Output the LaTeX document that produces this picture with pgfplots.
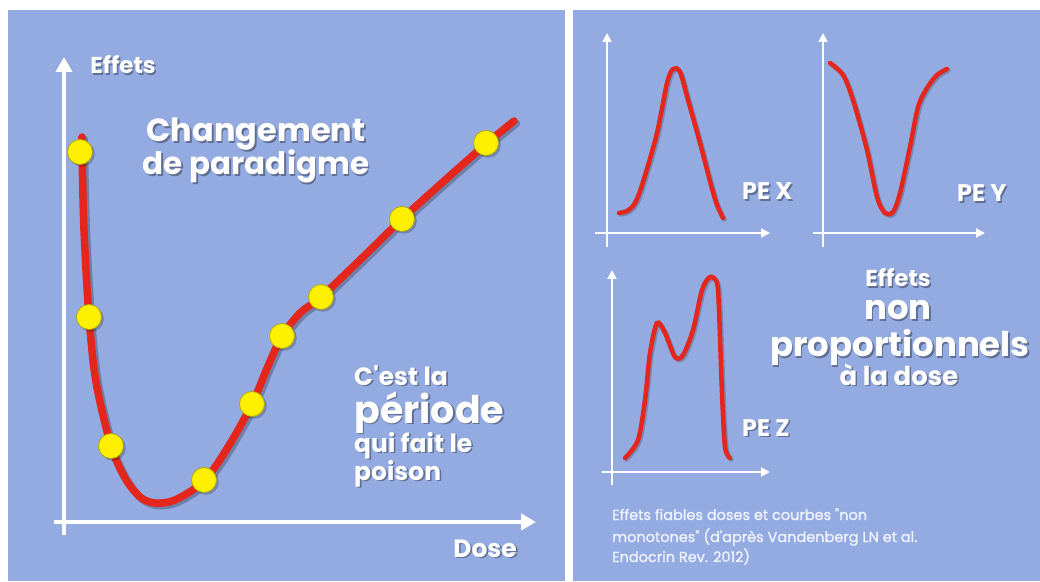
\documentclass[border=0pt]{standalone}
\usepackage{pgfplots}
\pgfplotsset{compat=1.18}
\usepackage{pgfplotstable}
\usetikzlibrary{arrows.meta}
\usepackage{fontspec}
\setmainfont{Poppins}
\newfontfamily\capfont{Poppins}[FakeBold=1.3]
\definecolor{panel}{RGB}{148,171,226}
\definecolor{curve}{RGB}{228,38,28}
\definecolor{dot}{RGB}{255,240,0}
\definecolor{capt}{RGB}{238,242,252}

% text with drop shadow: x(px), baseline y(px from top), options, text
\newcommand\sh[4]{%
 \node[inner sep=0pt, anchor=base, #3, text=black, opacity=0.35] at ({#1+1.6},{581-#2-1.6}) {#4};
 \node[inner sep=0pt, anchor=base, #3, text=white] at (#1,{581-#2}) {#4};}

\pgfplotstableread{
X Y
82 137
82 152
84 230
89 317
96 382
111 446
125 478
140 497
155 503
175 500
204 481
228 447
252 404
268 366
282 336
300 313
321 297
362 258
402 219
444 181
486 144
514 121
}\maincurve
\pgfplotstableread{
X Y
80 152
89 317
111 446
204 480
252 404
282 336
321 297
402 219
486 143
}\markers
\pgfplotstableread{
X Y
619 213
627 211
635 203
643 182
657 133
667 83
673 69
680 72
688 100
700 143
711 185
717 205
723 218
}\pex
\pgfplotstableread{
X Y
830 63
843 75
853 100
867 150
877 197
885 213
893 212
900 193
910 147
918 107
927 88
937 75
947 69
}\pey
\pgfplotstableread{
X Y
625 458
638 440
645 400
650 353
657 323
665 333
675 357
683 355
693 330
702 290
710 277
717 283
719 310
722 393
725 447
730 458
}\pez

\pgfplotsset{
 base/.style={x=1pt,y=1pt,axis lines=middle,xtick=\empty,ytick=\empty,
   clip=false,anchor=south west},
 small/.style={base,
   axis line style={white,line width=2pt},
   x axis line style={-{Triangle[length=9pt,width=9pt]}},
   y axis line style={-{Triangle[length=9pt,width=9pt]}}},
}

\begin{document}
\begin{tikzpicture}[x=1pt,y=1pt]
\useasboundingbox (0,0) rectangle (1040,581);
\fill[white] (0,0) rectangle (1040,581);
\fill[panel] (8,0) rectangle (565,571);
\fill[panel] (573,0) rectangle (1040,571);

% ---------- main chart ----------
\begin{axis}[base, at={(54,46)},
  xmin=-10, xmax=472, ymin=-13, ymax=465,
  axis line style={white,line width=4pt},
  x axis line style={-{Triangle[length=15pt,width=16pt]}},
  y axis line style={-{Triangle[length=15pt,width=16pt]}}]
\addplot[black, opacity=0.25, line width=7.5pt, line cap=round, smooth, tension=0.5, xshift=2.5pt, yshift=-2.5pt]
  table[x expr=\thisrow{X}-64, y expr=522-\thisrow{Y}] {\maincurve};
\addplot[curve, line width=7.5pt, line cap=round, smooth, tension=0.5]
  table[x expr=\thisrow{X}-64, y expr=522-\thisrow{Y}] {\maincurve};
\addplot[only marks, mark=*, mark size=12.5pt, mark options={fill=black, draw=none, opacity=0.2, xshift=2pt, yshift=-2pt}]
  table[x expr=\thisrow{X}-64, y expr=522-\thisrow{Y}] {\markers};
\addplot[only marks, mark=*, mark size=12.5pt, mark options={fill=dot, draw=dot!70!black, line width=0.8pt}]
  table[x expr=\thisrow{X}-64, y expr=522-\thisrow{Y}] {\markers};
\end{axis}

% ---------- PE X ----------
\begin{axis}[small, at={(595,334)}, xmin=-12, xmax=163, ymin=-14, ymax=200]
\addplot[black, opacity=0.2, line width=4.5pt, line cap=round, smooth, tension=0.5, xshift=1.5pt, yshift=-1.5pt]
  table[x expr=\thisrow{X}-607, y expr=233-\thisrow{Y}] {\pex};
\addplot[curve, line width=4.5pt, line cap=round, smooth, tension=0.5]
  table[x expr=\thisrow{X}-607, y expr=233-\thisrow{Y}] {\pex};
\end{axis}

% ---------- PE Y ----------
\begin{axis}[small, at={(813,334)}, xmin=-10, xmax=162, ymin=-14, ymax=200]
\addplot[black, opacity=0.2, line width=4.5pt, line cap=round, smooth, tension=0.5, xshift=1.5pt, yshift=-1.5pt]
  table[x expr=\thisrow{X}-823, y expr=233-\thisrow{Y}] {\pey};
\addplot[curve, line width=4.5pt, line cap=round, smooth, tension=0.5]
  table[x expr=\thisrow{X}-823, y expr=233-\thisrow{Y}] {\pey};
\end{axis}

% ---------- PE Z ----------
\begin{axis}[small, at={(602,96)}, xmin=-10, xmax=158, ymin=-13, ymax=202]
\addplot[black, opacity=0.2, line width=4.5pt, line cap=round, smooth, tension=0.5, xshift=1.5pt, yshift=-1.5pt]
  table[x expr=\thisrow{X}-612, y expr=472-\thisrow{Y}] {\pez};
\addplot[curve, line width=4.5pt, line cap=round, smooth, tension=0.5]
  table[x expr=\thisrow{X}-612, y expr=472-\thisrow{Y}] {\pez};
\end{axis}

% ---------- texts left ----------
\sh{123}{74}{font=\fontsize{23}{27}\selectfont\bfseries}{Effets}
\sh{256}{142}{font=\fontsize{32}{38}\selectfont\bfseries}{Changement}
\sh{256}{175}{font=\fontsize{31}{38}\selectfont\bfseries}{de paradigme}
\sh{354}{385}{anchor=base west,font=\fontsize{25}{30}\selectfont\bfseries}{C\textquotesingle est la}
\sh{354}{423}{anchor=base west,font=\fontsize{38}{44}\selectfont\bfseries}{période}
\sh{354}{452}{anchor=base west,font=\fontsize{25}{30}\selectfont\bfseries}{qui fait le}
\sh{354}{480}{anchor=base west,font=\fontsize{25}{30}\selectfont\bfseries}{poison}
\sh{517}{557}{anchor=base east,font=\fontsize{25}{30}\selectfont\bfseries}{Dose}

% ---------- texts right ----------
\sh{742}{200}{anchor=base west,font=\fontsize{24}{28}\selectfont\bfseries}{PE X}
\sh{957}{202}{anchor=base west,font=\fontsize{24}{28}\selectfont\bfseries}{PE Y}
\sh{742}{436}{anchor=base west,font=\fontsize{24}{28}\selectfont\bfseries}{PE Z}
\sh{898}{287}{font=\fontsize{23}{27}\selectfont\bfseries}{Effets}
\sh{898}{320}{text depth=0pt,font=\fontsize{34}{40}\selectfont\bfseries}{non}
\sh{900}{357}{text depth=0pt,font=\fontsize{34}{40}\selectfont\bfseries}{proportionnels}
\sh{899}{385}{text height=14pt,font=\fontsize{26}{30}\selectfont\bfseries}{à la dose}

\node[inner sep=0pt, anchor=base west, text=capt, font=\capfont\fontsize{14.5}{17}\selectfont] at (612,{581-520}) {Effets fiables doses et courbes \symbol{34}non};
\node[inner sep=0pt, anchor=base west, text=capt, font=\capfont\fontsize{14.5}{17}\selectfont] at (612,{581-542}) {monotones\symbol{34} (d\textquotesingle après Vandenberg LN et al.};
\node[inner sep=0pt, anchor=base west, text=capt, font=\capfont\fontsize{14.5}{17}\selectfont] at (612,{581-562}) {Endocrin Rev. 2012)};
\end{tikzpicture}
\end{document}
